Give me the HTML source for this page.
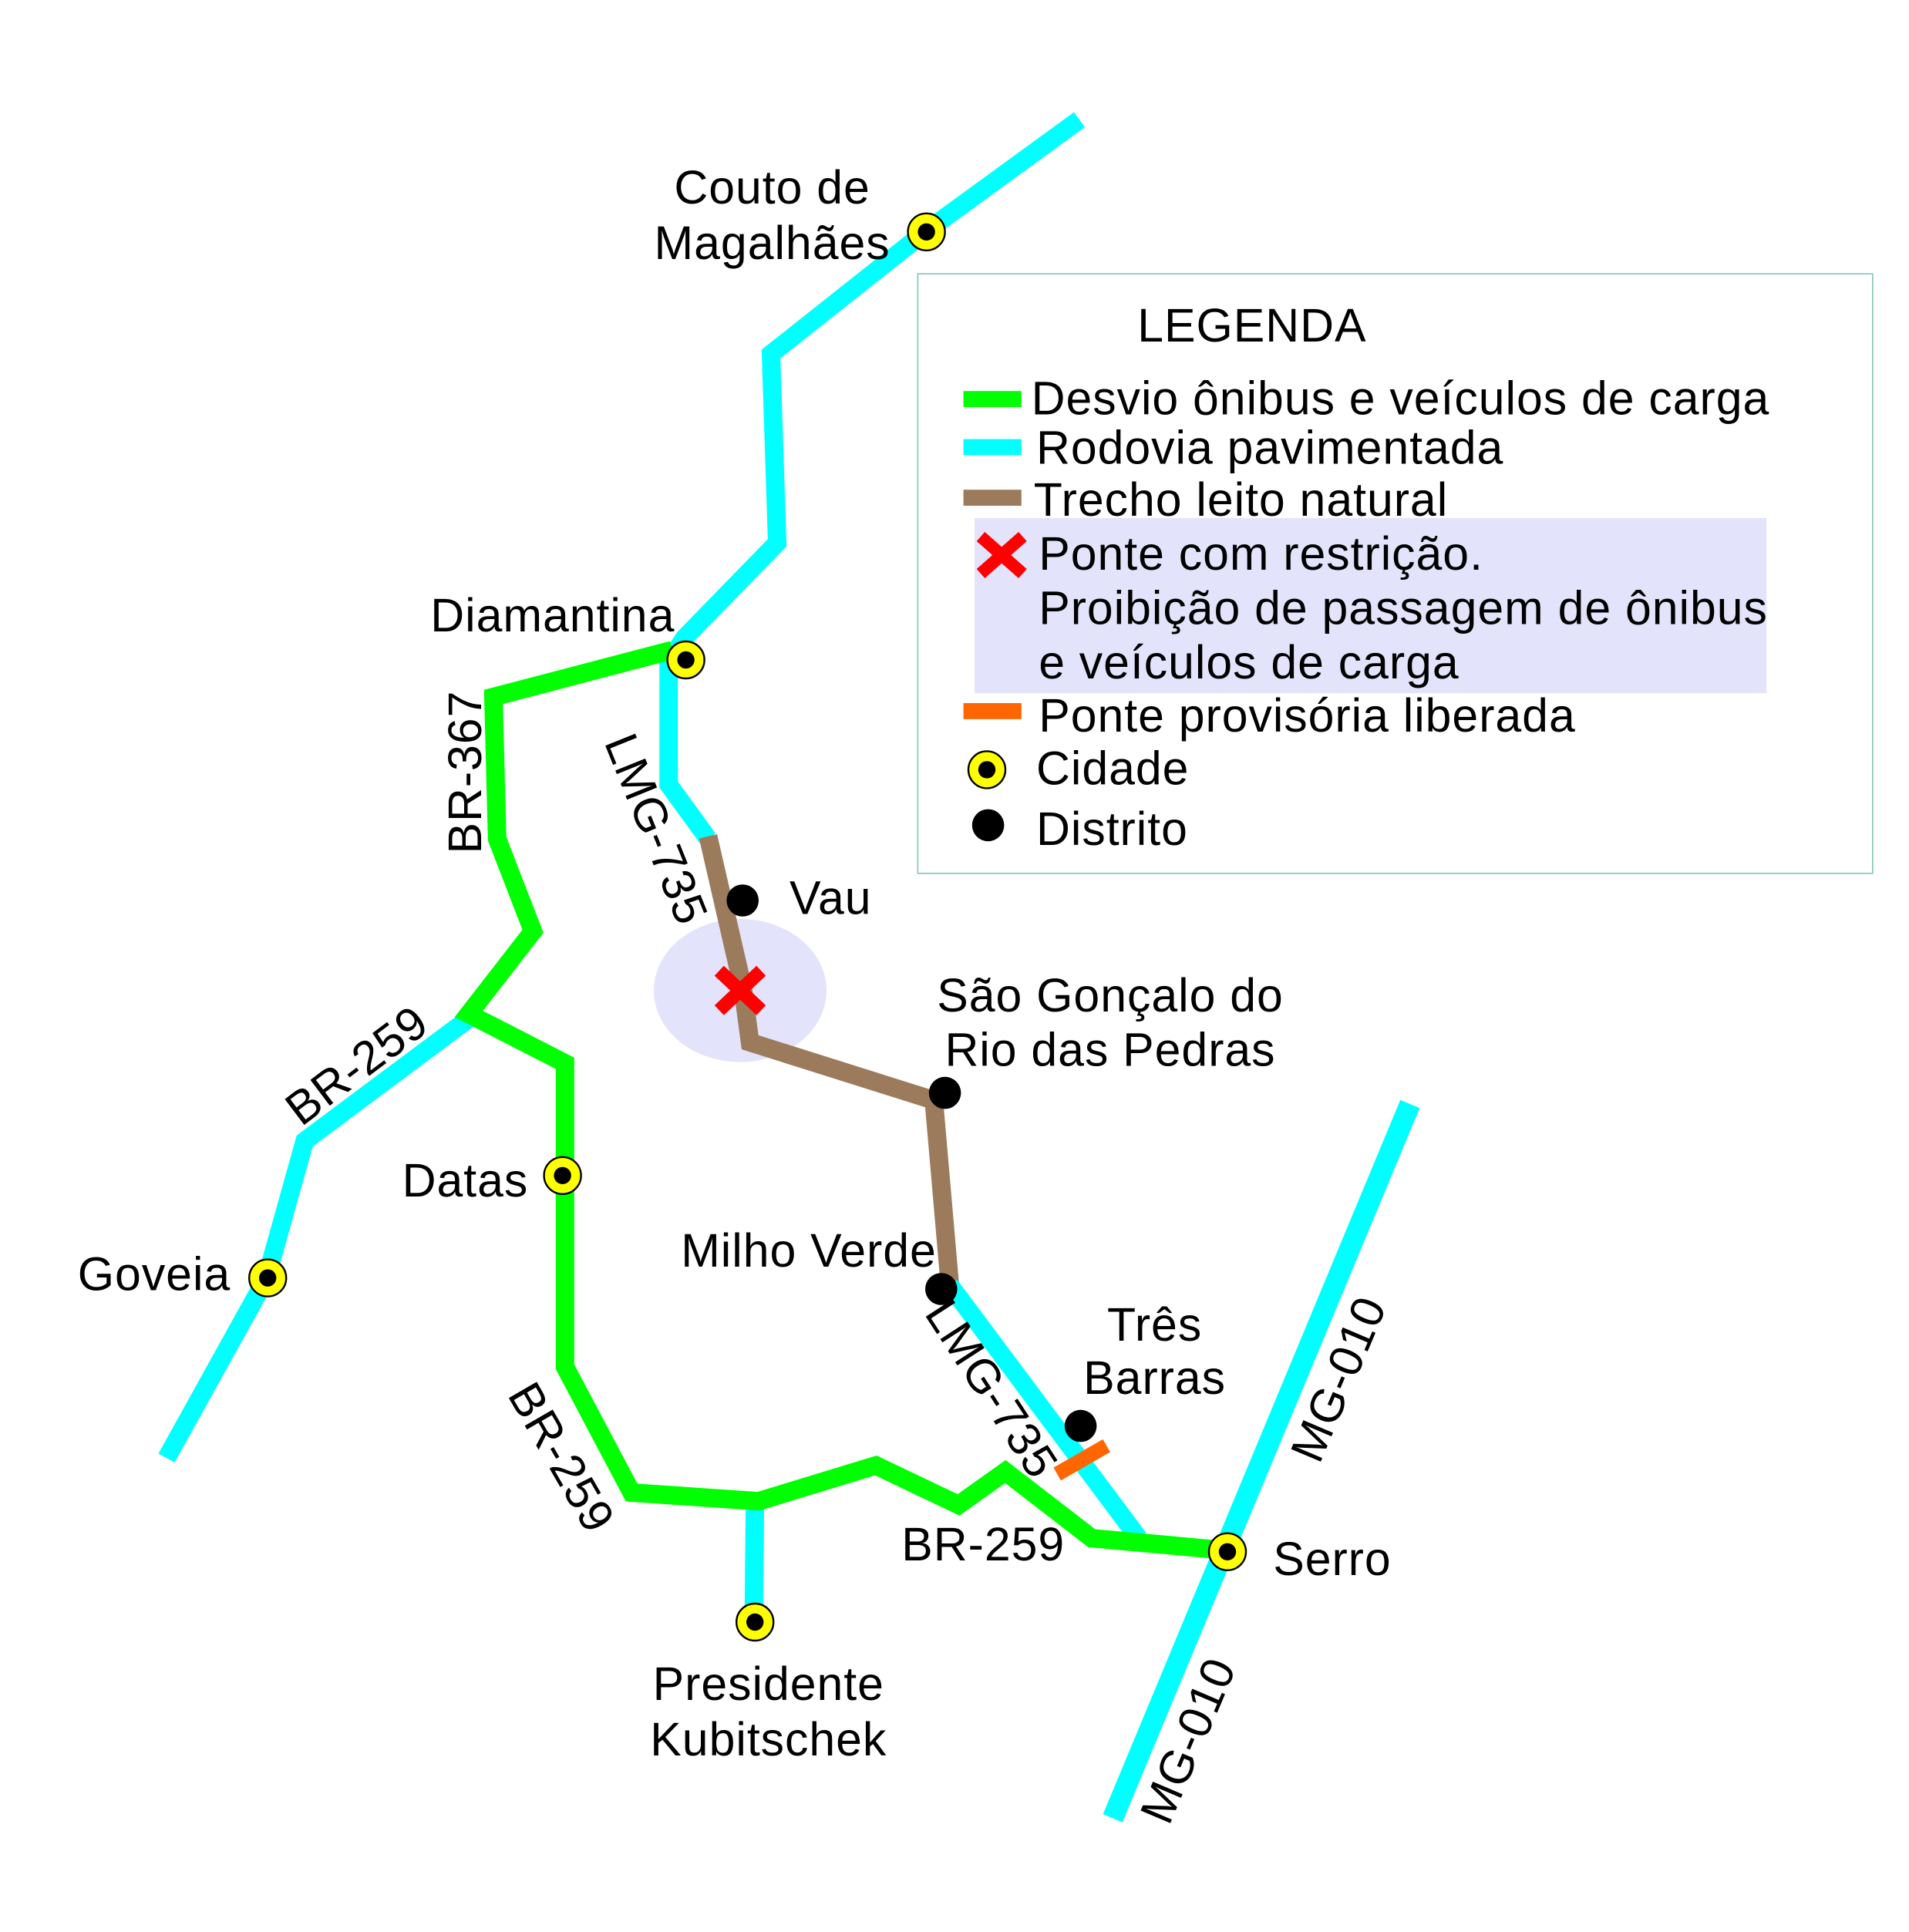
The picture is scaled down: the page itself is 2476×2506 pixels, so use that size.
<!DOCTYPE html>
<html><head><meta charset="utf-8"><style>
html,body{margin:0;padding:0;background:#fff;}
svg{display:block;}
text{font-family:"Liberation Sans",sans-serif;font-size:38px;letter-spacing:0.6px;fill:#000;}
</style></head><body>
<svg width="2476" height="2506" viewBox="0 0 1547.5 1566.25" preserveAspectRatio="none" xmlns="http://www.w3.org/2000/svg">
<rect width="1547.5" height="1566.25" fill="#fff"/>
<rect x="744" y="222" width="774" height="486" fill="#fff" stroke="#7fc8a8" stroke-width="1"/>
<rect x="790" y="420" width="642" height="142" fill="#e3e3fb"/>
<ellipse cx="600" cy="803" rx="70" ry="58" fill="#e3e3fb"/>
<g fill="none" stroke-linejoin="miter" stroke-width="15">
<polyline stroke="#00ffff" points="875,97 750,188 625,287 630,440 555,517 543,535"/>
<polyline stroke="#00ffff" points="542,535 542,636 574,680"/>
<polyline stroke="#9b7b5c" points="574,678 602,800 608,845 757,892 770,1042"/>
<polyline stroke="#00ffff" points="770,1042 923,1247"/>
<polyline stroke="#00ffff" points="385,822 247,925 216,1036 135,1182"/>
<polyline stroke="#00ffff" points="612,1215 611,1315"/>
<polyline stroke="#00ff00" points="545,527 400,565 403,680 432,755 380,822 458,862 458,1108 512,1210 615,1217 710,1188 777,1220 815,1193 885,1247 995,1257"/>
<line stroke="#00ffff" stroke-width="17" x1="1143" y1="895" x2="902" y2="1474"/>
<line stroke="#ff6600" stroke-width="12" x1="857" y1="1195" x2="897" y2="1172"/>
</g>
<g stroke="#ff0000" stroke-width="11"><line x1="583" y1="787" x2="617" y2="819"/><line x1="617" y1="787" x2="583" y2="819"/></g>
<g fill="#ffff00" stroke="#000" stroke-width="1.5">
<circle cx="751" cy="188" r="15"/><circle cx="556" cy="535" r="15"/><circle cx="456" cy="953" r="15"/>
<circle cx="217" cy="1036" r="15"/><circle cx="612" cy="1315" r="15"/><circle cx="995" cy="1258" r="15"/>
<circle cx="800" cy="624" r="15"/>
</g>
<g fill="#000">
<circle cx="751" cy="188" r="7"/><circle cx="556" cy="535" r="7"/><circle cx="456" cy="953" r="7"/>
<circle cx="217" cy="1036" r="7"/><circle cx="612" cy="1315" r="7"/><circle cx="995" cy="1258" r="7"/>
<circle cx="800" cy="624" r="7"/>
<circle cx="602" cy="730" r="13"/><circle cx="766" cy="886" r="13"/><circle cx="763" cy="1045" r="13"/><circle cx="876" cy="1156" r="13"/>
<circle cx="801" cy="669" r="13"/>
</g>
<text x="922" y="277">LEGENDA</text>
<rect x="781" y="317" width="47" height="13" fill="#00ff00"/>
<rect x="781" y="356" width="47" height="13" fill="#00ffff"/>
<rect x="781" y="397" width="47" height="13" fill="#9b7b5c"/>
<rect x="781" y="570" width="47" height="13" fill="#ff6600"/>
<g stroke="#ff0000" stroke-width="10"><line x1="795" y1="435" x2="829" y2="465"/><line x1="829" y1="435" x2="795" y2="465"/></g>
<text x="836" y="336">Desvio ônibus e veículos de carga</text>
<text x="840" y="376">Rodovia pavimentada</text>
<text x="838" y="418">Trecho leito natural</text>
<text x="842" y="462">Ponte com restrição.</text>
<text x="842" y="506">Proibição de passagem de ônibus</text>
<text x="842" y="550">e veículos de carga</text>
<text x="842" y="593">Ponte provisória liberada</text>
<text x="840" y="636">Cidade</text>
<text x="840" y="685">Distrito</text>
<text x="626" y="165" text-anchor="middle">Couto de</text>
<text x="626" y="210" text-anchor="middle">Magalhães</text>
<text x="448" y="512" text-anchor="middle">Diamantina</text>
<text x="640" y="741">Vau</text>
<text x="900" y="820" text-anchor="middle">São Gonçalo do</text>
<text x="900" y="864" text-anchor="middle">Rio das Pedras</text>
<text x="326" y="970">Datas</text>
<text x="63" y="1046">Goveia</text>
<text x="552" y="1027">Milho Verde</text>
<text x="936" y="1087" text-anchor="middle">Três</text>
<text x="936" y="1130" text-anchor="middle">Barras</text>
<text x="1032" y="1277">Serro</text>
<text x="623" y="1378" text-anchor="middle">Presidente</text>
<text x="623" y="1423" text-anchor="middle">Kubitschek</text>
<text x="797" y="1265" text-anchor="middle">BR-259</text>
<text transform="translate(390,626) rotate(-90)" text-anchor="middle">BR-367</text>
<text transform="translate(520,677) rotate(68)" text-anchor="middle">LMG-735</text>
<text transform="translate(297,874) rotate(-37)" text-anchor="middle">BR-259</text>
<text transform="translate(444,1188) rotate(60)" text-anchor="middle">BR-259</text>
<text transform="translate(793,1133) rotate(57)" text-anchor="middle">LMG-735</text>
<text transform="translate(1097,1123) rotate(-67)" text-anchor="middle">MG-010</text>
<text transform="translate(975,1416) rotate(-67)" text-anchor="middle">MG-010</text>
</svg>
</body></html>
